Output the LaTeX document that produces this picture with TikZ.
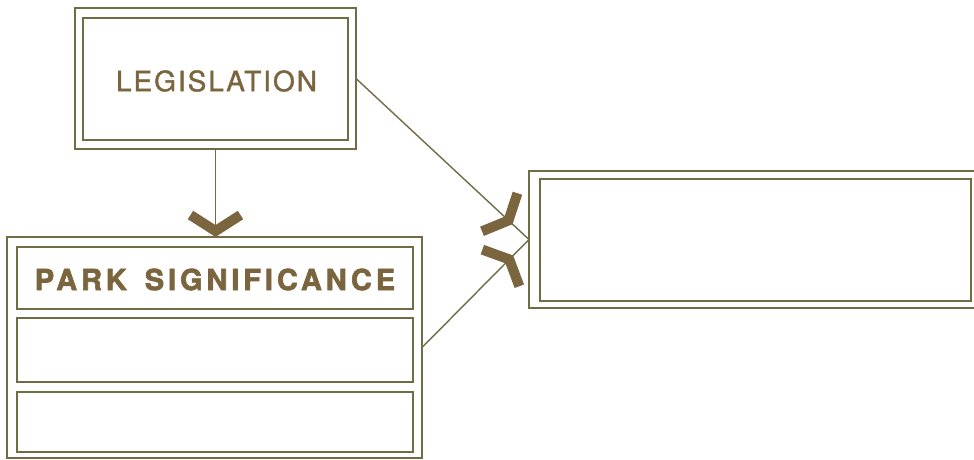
\documentclass[tikz,border=0pt]{standalone}
\usepackage{fontspec}
\setmainfont{TeX Gyre Heros}
\newfontfamily\legfont[LetterSpace=7, FakeBold=1.3]{TeX Gyre Heros}
\newfontfamily\parkfont[LetterSpace=13.5, FakeBold=2.2]{TeX Gyre Heros}
\usetikzlibrary{decorations.markings}
\definecolor{boxline}{RGB}{112,108,70}
\definecolor{ink}{RGB}{122,101,62}
\begin{document}
\begin{tikzpicture}[x=1pt,y=-1pt,
  frame/.style={draw=boxline, line width=1.9pt, inner sep=0pt, outer sep=0pt},
  conn/.style={draw=boxline, line width=1.4pt},
  chev/.style={draw=ink, line width=10pt, line cap=butt, line join=miter},
  label/.style={text=ink, inner sep=0pt},
]
\useasboundingbox (0,0) rectangle (974,459);
\fill[white] (0,0) rectangle (974,459);
% LEGISLATION
\node[frame, minimum width=281pt, minimum height=141pt] (L) at (215.5,78.5) {};
\node[frame, minimum width=265pt, minimum height=122pt] (Lin) at (215.5,79) {};
\node[label, font=\legfont\fontsize{28}{30}\selectfont] (Ltext) at (216.5,81) {LEGISLATION};
% PARK SIGNIFICANCE
\node[frame, minimum width=415pt, minimum height=221pt] (P) at (214.5,347.5) {};
\node[frame, minimum width=396pt, minimum height=62pt] (P1) at (215,278) {};
\node[frame, minimum width=396pt, minimum height=64pt] (P2) at (215,350) {};
\node[frame, minimum width=396pt, minimum height=60pt] (P3) at (215,422) {};
\node[label, font=\parkfont\bfseries\fontsize{29}{31}\selectfont] (Ptext) at (215,279.5) {PARK\hspace{6pt} SIGNIFICANCE};
% right box
\node[frame, minimum width=447pt, minimum height=137pt] (R) at (752.5,239.5) {};
\node[frame, minimum width=431pt, minimum height=122pt] (Rin) at (755.5,240) {};
% connectors
\draw[conn, postaction={decorate}, decoration={markings,
   mark=at position -6pt with {\draw[chev] (-16,-25) -- (0,0) -- (-16,25);}}]
   (L.south) -- (L.south |- P.north);
\draw[conn, postaction={decorate}, decoration={markings,
   mark=at position -28pt with {\draw[chev] (-12,-26) -- (0,0) -- (-12,26);}}]
   (L.east) -- (R.west);
\draw[conn, postaction={decorate}, decoration={markings,
   mark=at position -28pt with {\draw[chev] (-12,-26) -- (0,0) -- (-12,26);}}]
   (P.east) -- (R.west);
\end{tikzpicture}
\end{document}
